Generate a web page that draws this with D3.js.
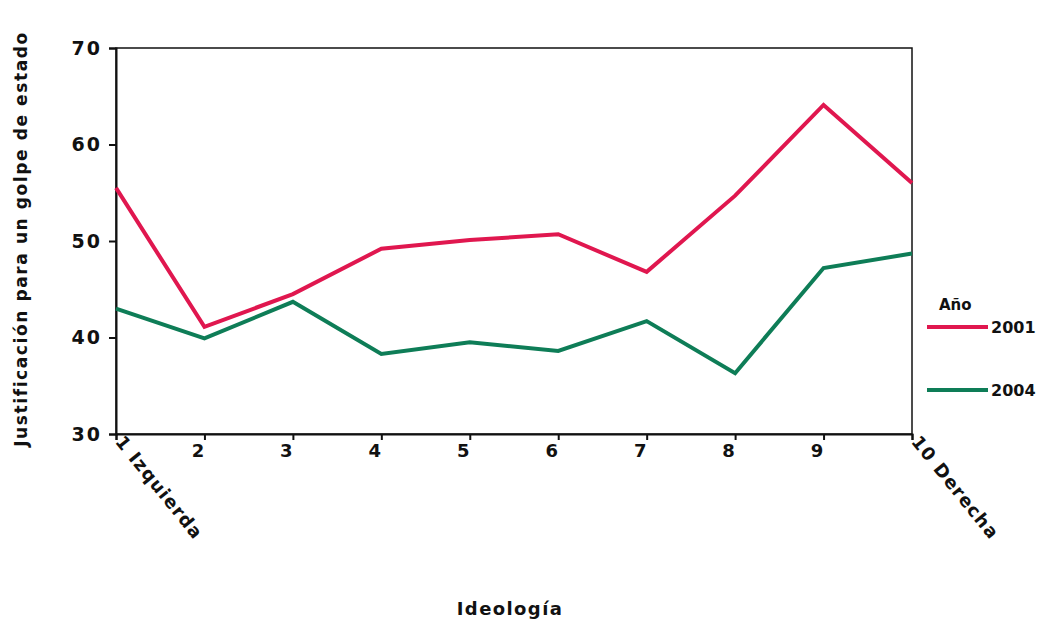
<!DOCTYPE html>
<html><head><meta charset="utf-8">
<script src="https://cdn.jsdelivr.net/npm/d3@7"></script>
<style>body{margin:0;background:#fff;} text{font-family:"DejaVu Sans",Arial,sans-serif;font-weight:bold;}</style>
</head><body><svg id="c" width="1050" height="619"></svg>
<script>
const categories = ["1 Izquierda","2","3","4","5","6","7","8","9","10 Derecha"];
const values2001 = [55.5,41.1,44.5,49.2,50.1,50.7,46.8,54.7,64.1,56.0];
const values2004 = [43.0,39.9,43.7,38.3,39.5,38.6,41.7,36.3,47.2,48.7];
const yTicks = [30,40,50,60,70];
const seriesNames = ["2001","2004"];
const colors = ["#e0174f","#0e7d57"];

(function(){
const svg = d3.select("#c");
const pL=116,pR=912,pT=48,pB=434;
const FF="DejaVu Sans, Arial, sans-serif";
const x = d3.scalePoint().domain(categories).range([pL,pR]);
const y = d3.scaleLinear().domain([30,70]).range([pB,pT]);

// frame
svg.append("rect").attr("x",pL).attr("y",pT).attr("width",pR-pL).attr("height",pB-pT)
  .attr("fill","none").attr("stroke","#111").attr("stroke-width",1.5);

const yAxis = svg.append("g").attr("transform",`translate(${pL},0)`)
  .call(d3.axisLeft(y).tickValues(yTicks).tickSize(7).tickPadding(7));
yAxis.select(".domain").attr("stroke","#111").attr("stroke-width",2);
yAxis.selectAll("line").attr("stroke","#111").attr("stroke-width",2);
yAxis.selectAll("text").attr("font-size",19).attr("fill","#111").attr("font-family",FF).attr("font-weight","bold").attr("letter-spacing",2);

const xAxis = svg.append("g").attr("transform",`translate(0,${pB})`)
  .call(d3.axisBottom(x).tickSize(6).tickPadding(4));
xAxis.select(".domain").attr("stroke","#111").attr("stroke-width",2);
xAxis.selectAll("line").attr("stroke","#111").attr("stroke-width",2);
xAxis.selectAll("text").attr("font-size",18).attr("fill","#111").attr("font-family",FF).attr("font-weight","bold")
  .each(function(d,i){
    const t=d3.select(this);
    if(i===0||i===categories.length-1){
      t.attr("text-anchor","start").attr("dy","0").attr("y",0).attr("letter-spacing",1.2)
       .attr("transform","translate(-2,8) rotate(51)");
    } else {
      t.attr("dx","-7");
    }
  });

const line = d3.line().x((d,i)=>x(categories[i])).y(d=>y(d));
[values2001,values2004].forEach((vals,k)=>{
  svg.append("path").datum(vals).attr("d",line).attr("fill","none")
    .attr("stroke",colors[k]).attr("stroke-width",4).attr("stroke-linejoin","miter");
});

// axis titles
svg.append("text").attr("transform","translate(27,239) rotate(-90)").attr("text-anchor","middle")
  .attr("font-size",17).attr("letter-spacing",1.6).attr("fill","#111").text("Justificación para un golpe de estado");
svg.append("text").attr("x",510).attr("y",615).attr("text-anchor","middle")
  .attr("font-size",18).attr("letter-spacing",1.4).attr("fill","#111").text("Ideología");

// legend
const lg = svg.append("g");
lg.append("text").attr("x",939).attr("y",310).attr("font-size",15).attr("fill","#111").text("Año");
const ly=[327,390];
seriesNames.forEach((s,k)=>{
  lg.append("line").attr("x1",927).attr("x2",988).attr("y1",ly[k]).attr("y2",ly[k])
    .attr("stroke",colors[k]).attr("stroke-width",4);
  lg.append("text").attr("x",991).attr("y",ly[k]+6).attr("font-size",16).attr("fill","#111").text(s);
});
})();
</script></body></html>
